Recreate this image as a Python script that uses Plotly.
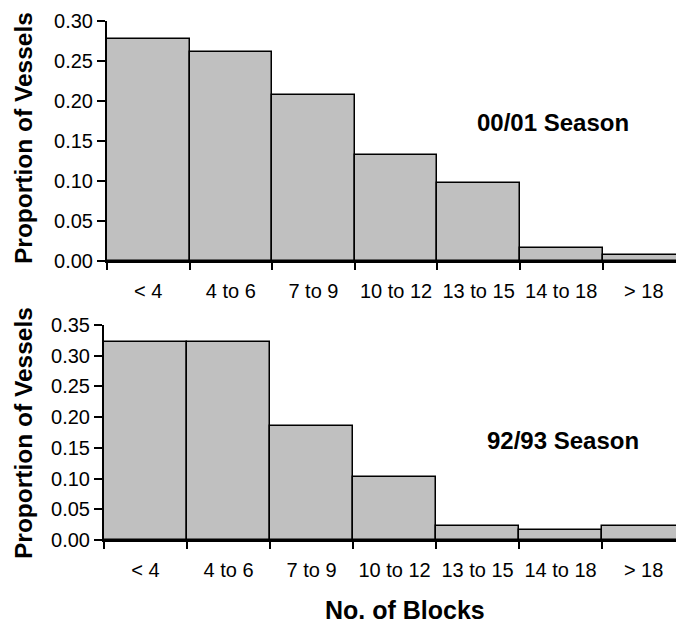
import plotly.graph_objects as go

categories = ["< 4", "4 to 6", "7 to 9", "10 to 12", "13 to 15", "14 to 18", "> 18"]
season_0001 = [0.278, 0.261, 0.208, 0.133, 0.098, 0.016, 0.008]
season_9293 = [0.322, 0.322, 0.186, 0.102, 0.023, 0.017, 0.023]
top_ticks = [0.00, 0.05, 0.10, 0.15, 0.20, 0.25, 0.30]
bot_ticks = [0.00, 0.05, 0.10, 0.15, 0.20, 0.25, 0.30, 0.35]

W, H = 676, 624
FONT = "Liberation Sans, Arial, sans-serif"

fig = go.Figure()
bar_style = dict(marker=dict(color="#c0c0c0", line=dict(color="black", width=1.5)), showlegend=False, hoverinfo="skip")
fig.add_trace(go.Bar(x=categories, y=season_0001, xaxis="x", yaxis="y", **bar_style))
fig.add_trace(go.Bar(x=categories, y=season_9293, xaxis="x2", yaxis="y2", **bar_style))

def px_x(v):
    return v / W

def px_y(v):
    return 1 - v / H

xcommon = dict(type="category", tickson="boundaries", ticks="outside", ticklen=7, tickwidth=1.5,
               tickcolor="black", showline=True, linecolor="black", linewidth=2, showgrid=False,
               zeroline=False, tickfont=dict(family=FONT, size=20, color="black"),
               range=[-0.5, 6.39], ticklabelstandoff=11, automargin=False)
ycommon = dict(ticks="outside", ticklen=8, tickwidth=1.5, tickcolor="black", showline=True,
               linecolor="black", linewidth=2, showgrid=False, zeroline=False,
               tickfont=dict(family=FONT, size=20, color="black"), tickformat=".2f", automargin=False)

fig.update_layout(
    width=W, height=H,
    margin=dict(l=0, r=0, t=0, b=0),
    paper_bgcolor="white", plot_bgcolor="white",
    bargap=0,
    xaxis=dict(domain=[px_x(107), 1], anchor="y", **xcommon),
    yaxis=dict(domain=[px_y(261), px_y(21)], anchor="x", range=[0, 0.30], tickvals=top_ticks, **ycommon),
    xaxis2=dict(domain=[px_x(104), 1], anchor="y2", **xcommon),
    yaxis2=dict(domain=[px_y(540), px_y(325)], anchor="x2", range=[0, 0.35], tickvals=bot_ticks, **ycommon),
    annotations=[
        dict(text="<b>Proportion of Vessels</b>", textangle=-90, xref="paper", yref="paper",
             x=px_x(23), y=px_y(138), showarrow=False, xanchor="center", yanchor="middle",
             font=dict(family=FONT, size=24.5, color="black")),
        dict(text="<b>Proportion of Vessels</b>", textangle=-90, xref="paper", yref="paper",
             x=px_x(23), y=px_y(433), showarrow=False, xanchor="center", yanchor="middle",
             font=dict(family=FONT, size=24.5, color="black")),
        dict(text="<b>00/01 Season</b>", xref="paper", yref="paper", x=px_x(553), y=px_y(123),
             showarrow=False, xanchor="center", yanchor="middle",
             font=dict(family=FONT, size=24, color="black")),
        dict(text="<b>92/93 Season</b>", xref="paper", yref="paper", x=px_x(563), y=px_y(440),
             showarrow=False, xanchor="center", yanchor="middle",
             font=dict(family=FONT, size=24, color="black")),
        dict(text="<b>No. of Blocks</b>", xref="paper", yref="paper", x=px_x(405), y=px_y(610),
             showarrow=False, xanchor="center", yanchor="middle",
             font=dict(family=FONT, size=25, color="black")),
    ],
)

fig.write_html("out.html", config={"displayModeBar": False},
               post_script="document.body.style.margin='0';document.body.style.overflow='hidden';")
